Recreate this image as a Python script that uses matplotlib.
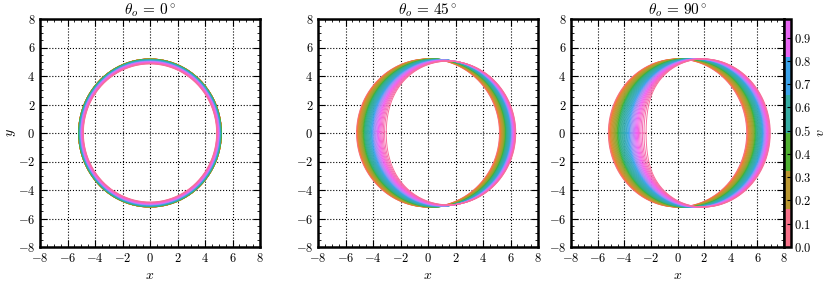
import numpy as np
import matplotlib
matplotlib.use("Agg")
import matplotlib.pyplot as plt
import seaborn as sns
from matplotlib.colors import ListedColormap, Normalize
from matplotlib.ticker import MultipleLocator, FuncFormatter

plt.rcParams['mathtext.fontset'] = 'cm'
plt.rcParams['font.family'] = 'serif'

# spin values of the curves (colour parameter v)
spins = [0.00, 0.02, 0.04, 0.06, 0.08, 0.10, 0.12, 0.14, 0.16, 0.18,
         0.20, 0.22, 0.24, 0.26, 0.28, 0.30, 0.32, 0.34, 0.36, 0.38,
         0.40, 0.42, 0.44, 0.46, 0.48, 0.50, 0.52, 0.54, 0.56, 0.58,
         0.60, 0.62, 0.64, 0.66, 0.68, 0.70, 0.72, 0.74, 0.76, 0.78,
         0.80, 0.82, 0.84, 0.86, 0.88, 0.90, 0.92, 0.94, 0.96, 0.98]
# observer inclinations (degrees)
inclinations = [0, 45, 90]
cbar_ticks = [0.0, 0.1, 0.2, 0.3, 0.4, 0.5, 0.6, 0.7, 0.8, 0.9]


def xi_eta(r, a):
    xi = (r**2 * (3 - r) - a**2 * (r + 1)) / (a * (r - 1))
    eta = r**3 * (4 * a**2 - r * (r - 3)**2) / (a**2 * (r - 1)**2)
    return xi, eta


def shadow(a, inc):
    a = max(a, 1e-3)
    th = np.radians(inc)
    if inc == 0:
        roots = np.roots([1, -3, a**2, a**2])
        r0 = max(roots[np.isreal(roots)].real)
        _, eta = xi_eta(r0, a)
        R = np.sqrt(eta + a**2)
        t = np.linspace(0, 2 * np.pi, 400)
        return R * np.cos(t), R * np.sin(t)
    r_pro = 2 * (1 + np.cos(2 / 3 * np.arccos(-a)))
    r_ret = 2 * (1 + np.cos(2 / 3 * np.arccos(a)))
    u = np.linspace(0, np.pi, 6000)
    r = r_pro + (r_ret - r_pro) * (1 - np.cos(u)) / 2
    xi, eta = xi_eta(r, a)
    b2 = eta + a**2 * np.cos(th)**2 - xi**2 / np.tan(th)**2
    m = b2 >= 0
    al = -xi[m] / np.sin(th)
    be = np.sqrt(b2[m])
    x = np.concatenate([al, al[::-1], al[:1]])
    y = np.concatenate([be, -be[::-1], be[:1]])
    return x, y


line_colors = sns.color_palette('husl', len(spins))
cmap = ListedColormap(sns.color_palette('husl', 6))

fig = plt.figure(figsize=(8.31, 2.83), dpi=100)
W, H = 831.0, 283.0
boxes = [(40, 260), (318, 538), (571, 784)]
top, bottom = 19, 247

mfmt = FuncFormatter(lambda v, p: r'$%g$' % v if v >= 0 else r'$-%g$' % -v)

axes = []
for (x0, x1), inc in zip(boxes, inclinations):
    ax = fig.add_axes([x0 / W, (H - bottom) / H, (x1 - x0) / W, (bottom - top) / H])
    for a, c in zip(spins, line_colors):
        x, y = shadow(a, inc)
        ax.plot(x, y, color=c, lw=0.7)
    ax.set_xlim(-8, 8)
    ax.set_ylim(-8, 8)
    ax.xaxis.set_major_locator(MultipleLocator(2))
    ax.yaxis.set_major_locator(MultipleLocator(2))
    ax.xaxis.set_minor_locator(MultipleLocator(0.5))
    ax.yaxis.set_minor_locator(MultipleLocator(0.5))
    ax.xaxis.set_major_formatter(mfmt)
    ax.yaxis.set_major_formatter(mfmt)
    ax.tick_params(which='both', direction='in', top=True, right=True, labelsize=9)
    ax.tick_params(which='major', length=5, width=0.8)
    ax.tick_params(which='minor', length=2.5, width=0.6)
    ax.grid(True, linestyle=':', color='k', lw=0.8)
    for s in ax.spines.values():
        s.set_linewidth(1.8)
    ax.set_title(r'$\theta_o\,=\,%d^\circ$' % inc, fontsize=11, pad=3)
    ax.set_xlabel(r'$x$', fontsize=10, labelpad=2)
    axes.append(ax)

axes[0].set_ylabel(r'$y$', fontsize=10, labelpad=0)

cax = fig.add_axes([784 / W, (H - bottom) / H, 7 / W, (bottom - top) / H])
sm = plt.cm.ScalarMappable(cmap=cmap, norm=Normalize(0, 0.98))
cb = fig.colorbar(sm, cax=cax, ticks=cbar_ticks)
cb.ax.yaxis.set_major_formatter(FuncFormatter(lambda v, p: r'$%.1f$' % v))
cb.ax.tick_params(direction='in', labelsize=9, length=3, width=0.8, pad=2)
cb.outline.set_linewidth(1.8)
cb.set_label(r'$v$', fontsize=10, labelpad=1)

fig.savefig('out.png', dpi=100)
